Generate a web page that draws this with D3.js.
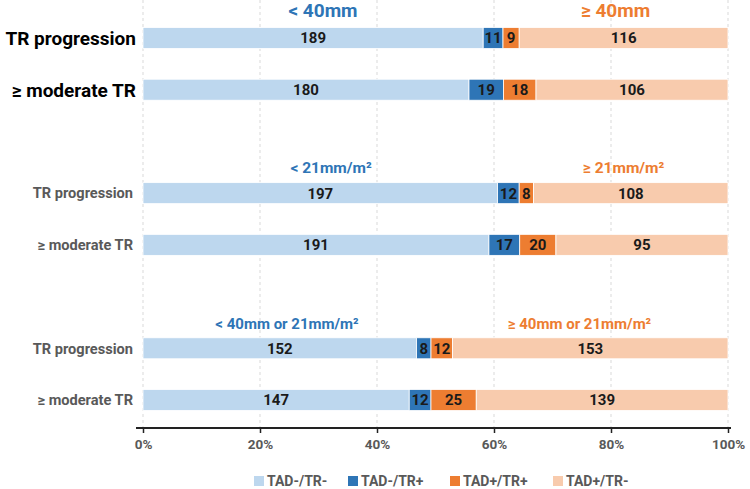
<!DOCTYPE html>
<html><head><meta charset="utf-8">
<script src="https://cdn.jsdelivr.net/npm/d3@7"></script>
<style>
html,body{margin:0;padding:0;background:#fff;}
svg{display:block;font-family:Roboto,"Open Sans",sans-serif;}
</style></head>
<body><svg id="c" width="750" height="489"></svg>
<script>
const rowLabels = ["TR progression","≥ moderate TR","TR progression","≥ moderate TR","TR progression","≥ moderate TR"];
const rowGroup = [0,0,1,1,2,2];
const rowSlot = [0,1,3,4,6,7];
const seriesNames = ["TAD-/TR-","TAD-/TR+","TAD+/TR+","TAD+/TR-"];
const tadNegTrNeg = [189,180,197,191,152,147];
const tadNegTrPos = [11,19,12,17,8,12];
const tadPosTrPos = [9,18,8,20,12,25];
const tadPosTrNeg = [116,106,108,95,153,139];
const headersLow = ["< 40mm","< 21mm/m²","< 40mm or 21mm/m²"];
const headersHigh = ["≥ 40mm","≥ 21mm/m²","≥ 40mm or 21mm/m²"];
const tickValues = [0,0.2,0.4,0.6,0.8,1];
const colors = ["#BDD7EE","#2E75B6","#ED7D31","#F8CBAD"];

const svg = d3.select("#c");
const x = d3.scaleLinear().domain([0,1]).range([143,728]);
const y = d3.scalePoint().domain(d3.range(8)).range([38,400]);
const barH = 21;

// gridlines
svg.append("g").selectAll("line").data(tickValues).join("line")
  .attr("x1",d=>x(d)).attr("x2",d=>x(d)).attr("y1",0).attr("y2",427)
  .attr("stroke","#d9d9d9").attr("stroke-width",1).attr("stroke-dasharray","3,3");

const rows = rowLabels.map((lab,i)=>{
  const vals=[tadNegTrNeg[i],tadNegTrPos[i],tadPosTrPos[i],tadPosTrNeg[i]];
  const tot=d3.sum(vals);
  let c=0;
  const segs=vals.map((v,k)=>{const s={k,v,x0:c/tot,x1:(c+v)/tot};c+=v;return s;});
  return {lab,i,g:rowGroup[i],slot:rowSlot[i],segs};
});

const rg = svg.append("g").selectAll("g").data(rows).join("g");
rg.selectAll("rect").data(d=>d.segs.map(s=>({...s,slot:d.slot}))).join("rect")
  .attr("x",s=>x(s.x0)).attr("width",s=>x(s.x1)-x(s.x0))
  .attr("y",s=>y(s.slot)-barH/2).attr("height",barH)
  .attr("fill",s=>colors[s.k]).attr("stroke","#fff").attr("stroke-width",0.8);
rg.selectAll("text.v").data(d=>d.segs.map(s=>({...s,slot:d.slot}))).join("text")
  .attr("class","v")
  .attr("x",s=>(x(s.x0)+x(s.x1))/2).attr("y",s=>y(s.slot)).attr("dy","0.36em")
  .attr("text-anchor","middle").attr("font-weight","bold").attr("font-size",15)
  .attr("fill","#1a1a1a").text(s=>s.v);
rg.append("text")
  .attr("x",d=>d.g===0?136:133).attr("y",d=>y(d.slot)).attr("dy","0.36em")
  .attr("text-anchor","end").attr("font-weight","bold")
  .attr("font-size",d=>d.g===0?19:14.6)
  .attr("fill",d=>d.g===0?"#000":"#595959").text(d=>d.lab);

// group headers
const firstRows = [0,2,4].map(i=>rows[i]);
const hy = [17,173,329];
const hs = [19,15.5,15];
firstRows.forEach((r,gi)=>{
  const split = r.segs[1].x1;
  svg.append("text").attr("x",x(split/2)).attr("y",hy[gi]).attr("text-anchor","middle")
    .attr("font-weight","bold").attr("font-size",hs[gi]).attr("fill","#2E75B6").text(headersLow[gi]);
  svg.append("text").attr("x",x((split+1)/2)).attr("y",hy[gi]).attr("text-anchor","middle")
    .attr("font-weight","bold").attr("font-size",hs[gi]).attr("fill","#ED7D31").text(headersHigh[gi]);
});

// axis
const ax = svg.append("g").attr("transform","translate(0,428)")
  .call(d3.axisBottom(x).tickValues(tickValues).tickFormat(d3.format(".0%")).tickSize(5).tickPadding(6));
ax.select(".domain").attr("stroke","#222").attr("stroke-width",2).attr("d","M136,0H731");
ax.selectAll(".tick line").attr("stroke","#222").attr("stroke-width",1.5);
ax.selectAll(".tick text").attr("font-family","Roboto,sans-serif").attr("font-size",13.5)
  .attr("font-weight","bold").attr("fill","#595959");

// legend
const lx=[254,348,450,553];
const lg = svg.append("g").selectAll("g").data(seriesNames).join("g")
  .attr("transform",(d,i)=>`translate(${lx[i]},481)`);
lg.append("rect").attr("x",0).attr("y",-5).attr("width",10).attr("height",10).attr("fill",(d,i)=>colors[i]);
lg.append("text").attr("x",13).attr("y",0).attr("dy","0.36em").attr("font-size",14)
  .attr("font-weight","bold").attr("fill","#595959").text(d=>d);
</script></body></html>
